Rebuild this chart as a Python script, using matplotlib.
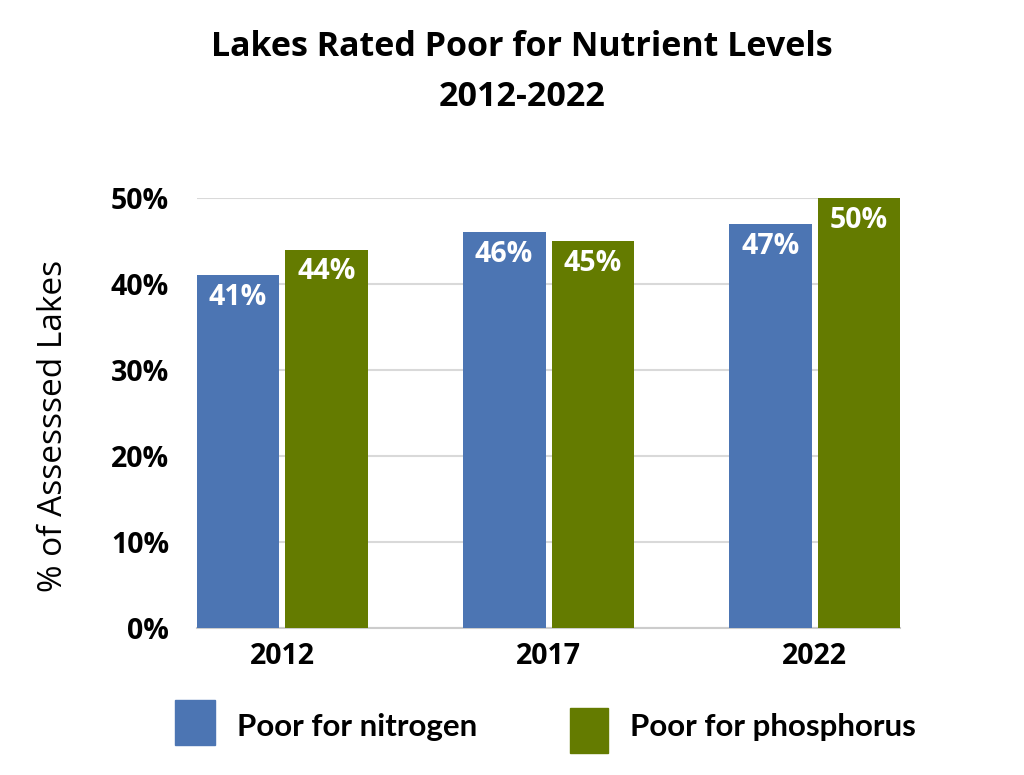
import numpy as np
import matplotlib.pyplot as plt
from matplotlib.patches import Rectangle

# data
years = ["2012", "2017", "2022"]
nitrogen = [41, 46, 47]
phosphorus = [44, 45, 50]
yticks = [0, 10, 20, 30, 40, 50]

blue = "#4c75b3"
green = "#647b00"

fig = plt.figure(figsize=(10.24, 7.75), dpi=100)
ax = fig.add_axes([0.1924, 0.1897, 0.6865, 0.5548])

x = np.arange(len(years))
w = 0.311
gap = 0.0225
b1 = ax.bar(x - w/2 - gap/2, nitrogen, w, color=blue, zorder=3)
b2 = ax.bar(x + w/2 + gap/2, phosphorus, w, color=green, zorder=3)

for bars, vals in [(b1, nitrogen), (b2, phosphorus)]:
    for r, v in zip(bars, vals):
        ax.annotate(f"{v}%", (r.get_x() + r.get_width()/2, v), xytext=(0, -16),
                    textcoords="offset points", ha="center", va="center",
                    color="white", fontsize=20.5, fontweight="bold",
                    family="Open Sans", zorder=4)

ax.set_xlim(-0.32, 2.32)
ax.set_ylim(0, 50)
ax.set_yticks(yticks)
ax.set_yticklabels([f"{t}%" for t in yticks], fontsize=20.5, fontweight="bold", family="Open Sans")
ax.set_xticks(x)
ax.set_xticklabels(years, fontsize=20.5, fontweight="bold", family="Open Sans")
ax.tick_params(axis="y", length=0, pad=20)
ax.tick_params(axis="x", length=0, pad=10)
ax.grid(axis="y", color="#d9d9d9", linewidth=1.5, zorder=0)
for s in ["top", "right", "left"]:
    ax.spines[s].set_visible(False)
ax.spines["bottom"].set_color("#cccccc")
ax.spines["bottom"].set_linewidth(1.5)
ax.set_ylabel("% of Assesssed Lakes", fontsize=24, family="Open Sans")
ax.yaxis.set_label_coords(-0.18, 0.47)

fig.text(0.51, 0.94, "Lakes Rated Poor for Nutrient Levels", ha="center", va="center",
         fontsize=24.5, fontweight="bold", family="Open Sans")
fig.text(0.51, 0.875, "2012-2022", ha="center", va="center",
         fontsize=24.5, fontweight="bold", family="Open Sans")

# legend
fig.patches.append(Rectangle((175/1024, 1 - 745/775), 40/1024, 45/775,
                             transform=fig.transFigure, color=blue))
fig.text(237/1024, 1 - 727/775, "Poor for nitrogen", ha="left", va="center",
         fontsize=22.5, fontweight="bold", family="Lato")
fig.patches.append(Rectangle((570/1024, 1 - 753/775), 38/1024, 45/775,
                             transform=fig.transFigure, color=green))
fig.text(630/1024, 1 - 727/775, "Poor for phosphorus", ha="left", va="center",
         fontsize=22.5, fontweight="bold", family="Lato")

fig.savefig("out.png", dpi=100, facecolor="white")
